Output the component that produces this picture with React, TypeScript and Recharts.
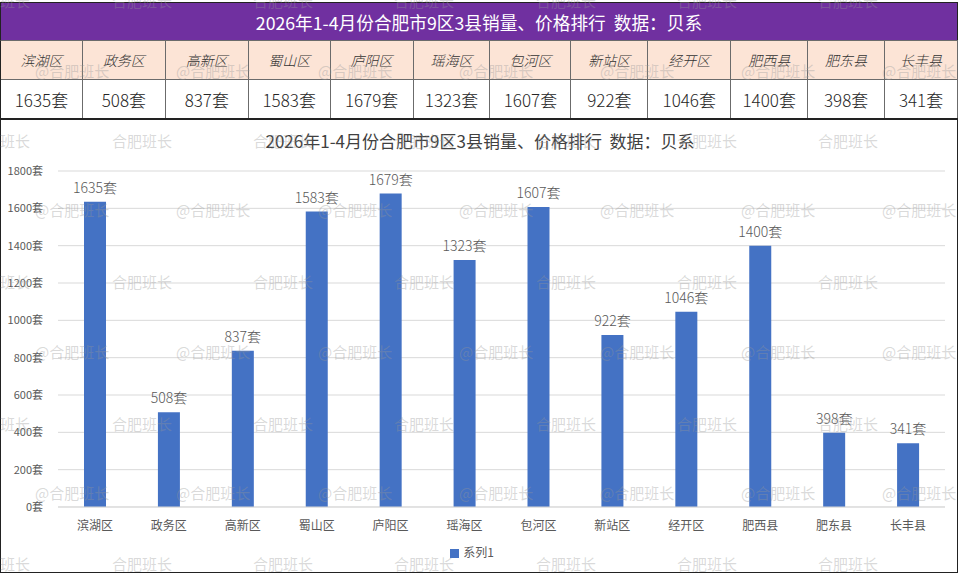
import React from "react";
import {
  BarChart,
  Bar,
  XAxis,
  YAxis,
  CartesianGrid,
  Legend,
  LabelList,
} from "recharts";

const title = "2026年1-4月份合肥市9区3县销量、价格排行  数据：贝系";
const districts = [
  "滨湖区",
  "政务区",
  "高新区",
  "蜀山区",
  "庐阳区",
  "瑶海区",
  "包河区",
  "新站区",
  "经开区",
  "肥西县",
  "肥东县",
  "长丰县",
];
const sales = [1635, 508, 837, 1583, 1679, 1323, 1607, 922, 1046, 1400, 398, 341];
const yTicks = [0, 200, 400, 600, 800, 1000, 1200, 1400, 1600, 1800];
const seriesName = "系列1";
const unit = "套";
const watermark = "合肥班长";

// table column widths (px)
const colWidths = [82, 83, 83, 82, 83, 77, 81, 77, 83, 77, 77, 73];

const FONT = '"Noto Sans CJK SC", "Noto Sans", sans-serif';

const data = districts.map((name, i) => ({ name, value: sales[i] }));

function Watermarks() {
  const plainRows = [2, 142, 283, 425, 565];
  const atRows = [72, 211, 353, 494];
  const plainCols = [-30, 112, 253, 394, 536, 677, 818];
  const atCols = [35, 176, 318, 459, 600, 741, 882];
  const items: React.ReactNode[] = [];
  plainRows.forEach((y) =>
    plainCols.forEach((x) =>
      items.push(
        <text key={`p${x}-${y}`} x={x} y={y + 5} fontSize={15}>
          {watermark}
        </text>
      )
    )
  );
  atRows.forEach((y) =>
    atCols.forEach((x) =>
      items.push(
        <text key={`a${x}-${y}`} x={x} y={y + 5} fontSize={15}>
          @{watermark}
        </text>
      )
    )
  );
  return (
    <svg
      width={960}
      height={574}
      style={{ position: "absolute", left: 0, top: 0, pointerEvents: "none" }}
    >
      <g fill="rgba(150,150,150,0.36)" fontFamily={FONT}>
        {items}
      </g>
    </svg>
  );
}

export default function App() {
  const cell: React.CSSProperties = {
    boxSizing: "border-box",
    borderRight: "1px solid #6b6b6b",
    display: "flex",
    alignItems: "center",
    justifyContent: "center",
  };

  return (
    <div
      style={{
        position: "absolute",
        left: 0,
        top: 0,
        width: 960,
        height: 574,
        background: "#fff",
        fontFamily: FONT,
        overflow: "hidden",
      }}
    >
      {/* purple header */}
      <div
        style={{
          position: "absolute",
          left: 0,
          top: 2,
          width: 958,
          height: 38,
          background: "#7030A0",
          color: "#fff",
          fontSize: 17.7,
          lineHeight: "38px",
          textAlign: "center",
          whiteSpace: "pre",
          boxSizing: "border-box",
          border: "1px solid #222",
          borderBottom: "none",
        }}
      >
        {title}
      </div>

      {/* table */}
      <div
        style={{
          position: "absolute",
          left: 0,
          top: 40,
          width: 958,
          height: 78,
          boxSizing: "border-box",
          borderLeft: "1px solid #222",
          borderTop: "1px solid #6b6b6b",
        }}
      >
        <div style={{ display: "flex", height: 38, background: "#FCE4D6", borderBottom: "1px solid #6b6b6b" }}>
          {districts.map((d, i) => (
            <div
              key={d}
              style={{
                ...cell,
                width: colWidths[i],
                fontSize: 14,
                fontStyle: "italic",
                fontWeight: 300,
                color: "#333",
              }}
            >
              {d}
            </div>
          ))}
        </div>
        <div style={{ display: "flex", height: 38, background: "#fff", borderBottom: "2px solid #222" }}>
          {sales.map((v, i) => (
            <div
              key={i}
              style={{
                ...cell,
                width: colWidths[i],
                fontSize: 17,
                fontWeight: 300,
                color: "#262626",
              }}
            >
              {v}
              {unit}
            </div>
          ))}
        </div>
      </div>

      {/* chart box */}
      <div
        style={{
          position: "absolute",
          left: 0,
          top: 118,
          width: 958,
          height: 455,
          boxSizing: "border-box",
          border: "1px solid #222",
          borderTop: "none",
        }}
      >
        <div
          style={{
            position: "absolute",
            left: 0,
            top: 13,
            width: 958,
            textAlign: "center",
            fontSize: 17,
            lineHeight: "20px",
            whiteSpace: "pre",
            color: "#404040",
          }}
        >
          {title}
        </div>
        <BarChart
          width={957}
          height={454}
          data={data}
          margin={{ top: 53, right: 13, left: 8, bottom: 18 }}
        >
          <CartesianGrid vertical={false} stroke="#d9d9d9" />
          <XAxis
            dataKey="name"
            interval={0}
            tickLine={false}
            axisLine={{ stroke: "#d9d9d9" }}
            tick={{ fontSize: 12, fill: "#595959", fontFamily: FONT }}
            tickMargin={8}
            height={30}
          />
          <YAxis
            domain={[0, 1800]}
            ticks={yTicks}
            axisLine={false}
            tickLine={false}
            tickFormatter={(v) => `${v}${unit}`}
            tick={{ fontSize: 11, fill: "#595959", fontFamily: FONT }}
            tickMargin={9}
            width={49}
          />
          <Legend
            verticalAlign="bottom"
            iconType="square"
            iconSize={9}
            wrapperStyle={{ bottom: 12, fontSize: 12, fontFamily: FONT }}
            formatter={(v) => <span style={{ color: "#595959" }}>{v}</span>}
          />
          <Bar
            dataKey="value"
            name={seriesName}
            fill="#4472C4"
            barSize={22}
            isAnimationActive={false}
          >
            <LabelList
              dataKey="value"
              position="top"
              offset={9}
              formatter={(v) => `${v}${unit}`}
              fill="#595959"
              fontSize={14}
              fontWeight={300}
              fontFamily={FONT}
            />
          </Bar>
        </BarChart>
      </div>

      <Watermarks />
    </div>
  );
}
